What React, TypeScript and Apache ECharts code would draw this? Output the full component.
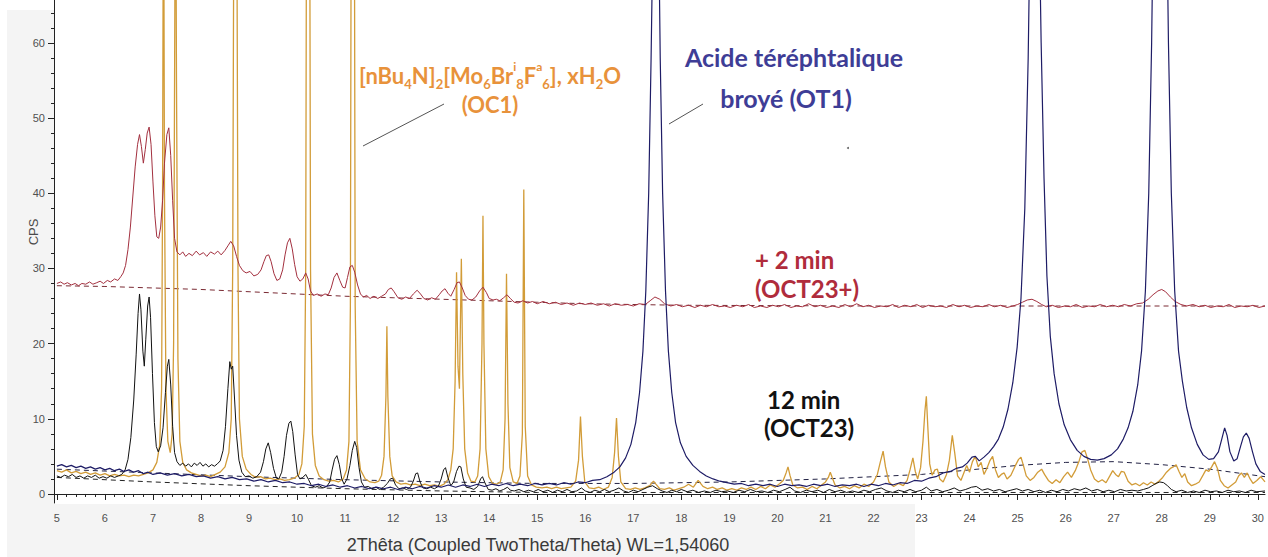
import React, { useEffect, useRef } from "react";
import * as echarts from "echarts";

// ---------- axis ticks ----------
const xTickLabels = [5, 6, 7, 8, 9, 10, 11, 12, 13, 14, 15, 16, 17, 18, 19, 20, 21, 22, 23, 24, 25, 26, 27, 28, 29, 30];
const yTickLabels = [0, 10, 20, 30, 40, 50, 60];

// ---------- series (2θ, CPS) ----------
const redOCT23plus: number[][] = [
  [5.0, 28.0], [5.08, 28.2], [5.15, 27.9], [5.22, 28.1], [5.3, 27.8], [5.38, 28.0], [5.45, 27.7], [5.52, 28.0], [5.6, 27.9], [5.68, 28.2],
  [5.75, 27.9], [5.83, 28.1], [5.9, 28.3], [5.97, 28.0], [6.05, 28.4], [6.12, 28.2], [6.2, 28.6], [6.27, 28.4], [6.33, 28.9], [6.38, 29.4],
  [6.43, 30.4], [6.48, 32.5], [6.53, 35.5], [6.58, 39.5], [6.63, 43.5], [6.68, 46.5], [6.72, 47.8], [6.76, 46.2], [6.8, 44.0], [6.84, 45.8],
  [6.88, 48.0], [6.92, 48.8], [6.96, 46.5], [7.0, 41.5], [7.04, 37.0], [7.08, 34.2], [7.12, 34.0], [7.16, 35.5], [7.2, 39.0], [7.24, 44.0],
  [7.29, 47.8], [7.33, 48.7], [7.37, 45.0], [7.41, 39.0], [7.45, 34.0], [7.5, 32.2], [7.56, 31.8], [7.62, 32.2], [7.68, 31.6], [7.75, 32.0],
  [7.82, 31.7], [7.9, 32.3], [7.97, 31.8], [8.05, 32.1], [8.12, 31.6], [8.2, 32.2], [8.28, 31.9], [8.35, 32.3], [8.42, 31.8], [8.5, 32.4],
  [8.56, 33.0], [8.62, 33.6], [8.68, 33.0], [8.74, 31.6], [8.8, 30.4], [8.87, 29.7], [8.94, 29.4], [9.02, 29.6], [9.1, 29.0], [9.18, 29.2],
  [9.25, 29.8], [9.31, 30.9], [9.36, 31.7], [9.41, 31.8], [9.46, 30.9], [9.52, 29.3], [9.58, 28.4], [9.64, 28.6], [9.7, 29.8], [9.75, 31.8],
  [9.8, 33.4], [9.85, 34.0], [9.9, 32.6], [9.95, 30.5], [10.0, 28.9], [10.06, 28.3], [10.12, 28.6], [10.18, 29.4], [10.23, 28.6], [10.28, 27.0],
  [10.34, 26.4], [10.42, 26.6], [10.5, 26.3], [10.58, 26.6], [10.65, 26.5], [10.71, 27.4], [10.77, 28.8], [10.83, 29.4], [10.89, 28.4], [10.95, 27.5],
  [11.0, 27.4], [11.05, 28.8], [11.1, 30.2], [11.15, 30.4], [11.2, 29.5], [11.26, 27.8], [11.32, 26.6], [11.38, 26.2], [11.45, 26.4], [11.52, 26.0],
  [11.6, 26.3], [11.68, 26.0], [11.76, 26.3], [11.84, 26.6], [11.9, 27.2], [11.96, 27.4], [12.02, 26.9], [12.1, 26.1], [12.18, 25.9], [12.26, 26.2],
  [12.34, 26.0], [12.42, 26.6], [12.5, 27.1], [12.57, 26.6], [12.64, 26.0], [12.72, 25.8], [12.8, 26.1], [12.88, 25.9], [12.96, 26.5], [13.02, 27.0],
  [13.08, 27.3], [13.14, 26.7], [13.2, 26.3], [13.27, 27.2], [13.33, 28.1], [13.38, 28.2], [13.44, 27.4], [13.5, 26.4], [13.57, 25.9], [13.64, 25.8],
  [13.72, 26.2], [13.8, 27.0], [13.87, 27.5], [13.94, 26.8], [14.0, 26.0], [14.08, 25.8], [14.15, 25.9], [14.22, 25.7], [14.3, 26.1], [14.37, 26.5],
  [14.44, 26.0], [14.52, 25.5], [14.6, 25.4], [14.7, 25.7], [14.8, 25.4], [14.9, 25.6], [15.0, 25.3], [15.12, 25.6], [15.25, 25.3], [15.38, 25.5],
  [15.5, 25.2], [15.62, 25.4], [15.75, 25.1], [15.88, 25.4], [16.0, 25.2], [16.12, 25.4], [16.25, 25.1], [16.38, 25.3], [16.5, 25.0], [16.62, 25.3],
  [16.75, 25.1], [16.88, 25.2], [17.0, 25.0], [17.12, 25.3], [17.25, 25.2], [17.35, 25.7], [17.45, 26.2], [17.55, 25.9], [17.65, 25.3], [17.78, 25.0],
  [17.9, 25.2], [18.02, 24.9], [18.15, 25.1], [18.28, 24.8], [18.4, 25.1], [18.52, 24.9], [18.65, 25.2], [18.78, 24.9], [18.9, 25.0], [19.02, 24.8],
  [19.15, 25.1], [19.28, 24.9], [19.4, 25.2], [19.52, 24.8], [19.65, 25.0], [19.78, 24.8], [19.9, 25.1], [20.02, 24.9], [20.15, 25.2], [20.28, 24.8],
  [20.4, 25.0], [20.52, 24.9], [20.65, 25.3], [20.78, 24.9], [20.9, 25.1], [21.02, 24.8], [21.15, 25.0], [21.28, 24.8], [21.4, 25.2], [21.52, 24.9],
  [21.65, 25.3], [21.78, 24.9], [21.9, 25.1], [22.02, 24.8], [22.15, 25.0], [22.28, 24.9], [22.4, 25.2], [22.52, 24.8], [22.65, 25.1], [22.78, 24.9],
  [22.9, 25.2], [23.02, 24.8], [23.15, 25.1], [23.28, 24.9], [23.4, 25.0], [23.52, 24.8], [23.65, 25.2], [23.78, 24.9], [23.9, 25.1], [24.02, 24.8],
  [24.15, 25.0], [24.28, 24.9], [24.4, 25.2], [24.52, 24.9], [24.65, 25.1], [24.78, 24.8], [24.9, 25.0], [25.0, 25.2], [25.1, 25.5], [25.2, 25.8],
  [25.3, 25.9], [25.4, 25.6], [25.5, 25.2], [25.6, 24.9], [25.72, 25.1], [25.85, 24.8], [25.98, 25.0], [26.1, 24.9], [26.22, 25.2], [26.35, 24.8],
  [26.48, 25.0], [26.6, 24.9], [26.72, 25.2], [26.85, 24.9], [26.98, 25.1], [27.1, 24.9], [27.22, 25.2], [27.35, 25.0], [27.48, 25.3], [27.6, 25.4],
  [27.72, 25.9], [27.82, 26.5], [27.92, 27.0], [28.0, 27.2], [28.08, 26.9], [28.18, 26.2], [28.28, 25.6], [28.4, 25.2], [28.52, 25.0], [28.65, 25.2],
  [28.78, 24.9], [28.9, 25.1], [29.02, 24.8], [29.15, 25.0], [29.28, 24.9], [29.4, 25.2], [29.52, 24.8], [29.65, 25.0], [29.78, 24.9], [29.9, 25.1],
  [30.02, 24.8], [30.15, 25.0],
];

const navyOT1: number[][] = [
  [5.0, 3.7], [5.1, 3.9], [5.2, 3.6], [5.3, 3.8], [5.4, 3.5], [5.5, 3.7], [5.6, 3.4], [5.7, 3.6], [5.8, 3.3], [5.9, 3.5],
  [6.0, 3.2], [6.1, 3.4], [6.2, 3.1], [6.3, 3.3], [6.4, 3.0], [6.5, 3.2], [6.6, 2.9], [6.7, 3.1], [6.8, 2.7], [6.9, 2.9],
  [7.0, 2.6], [7.15, 2.8], [7.3, 2.5], [7.45, 2.7], [7.6, 2.4], [7.75, 2.6], [7.9, 2.3], [8.05, 2.4], [8.2, 2.1], [8.35, 2.3],
  [8.5, 2.0], [8.65, 2.2], [8.8, 1.9], [8.95, 2.0], [9.1, 1.7], [9.25, 1.9], [9.4, 1.6], [9.55, 1.8], [9.7, 1.5], [9.85, 1.6],
  [10.0, 1.3], [10.15, 1.4], [10.3, 1.1], [10.45, 1.3], [10.6, 1.0], [10.75, 1.2], [10.9, 0.9], [11.05, 1.1], [11.2, 0.8], [11.35, 1.0],
  [11.5, 0.7], [11.65, 0.9], [11.8, 0.7], [11.95, 0.9], [12.1, 0.6], [12.25, 0.9], [12.4, 0.7], [12.55, 1.0], [12.7, 0.8], [12.85, 1.1],
  [13.0, 0.9], [13.15, 1.2], [13.3, 0.9], [13.45, 1.2], [13.6, 1.0], [13.75, 1.3], [13.9, 1.0], [14.05, 1.3], [14.2, 1.1], [14.35, 1.4],
  [14.5, 1.1], [14.65, 1.3], [14.8, 1.1], [14.95, 1.4], [15.1, 1.2], [15.25, 1.4], [15.4, 1.2], [15.55, 1.5], [15.7, 1.3], [15.85, 1.6],
  [16.0, 1.5], [16.15, 1.8], [16.3, 1.9], [16.45, 2.3], [16.6, 2.9], [16.72, 3.6], [16.84, 4.8], [16.95, 6.6], [17.05, 9.5], [17.13, 13.5],
  [17.2, 19], [17.26, 27], [17.32, 40], [17.37, 58], [17.42, 80], [17.52, 80], [17.56, 58], [17.61, 40], [17.67, 27], [17.73, 19],
  [17.8, 13.5], [17.88, 9.5], [17.98, 6.8], [18.1, 5.0], [18.24, 3.8], [18.38, 3.0], [18.52, 2.4], [18.66, 2.0], [18.8, 1.7], [18.95, 1.5],
  [19.1, 1.3], [19.25, 1.4], [19.4, 1.1], [19.55, 1.3], [19.7, 1.1], [19.85, 1.3], [20.0, 1.0], [20.15, 1.3], [20.3, 1.1], [20.45, 1.2],
  [20.6, 1.0], [20.75, 1.3], [20.9, 1.1], [21.05, 1.3], [21.2, 1.0], [21.35, 1.2], [21.5, 1.1], [21.65, 1.3], [21.8, 1.0], [21.95, 1.3],
  [22.1, 1.1], [22.25, 1.4], [22.4, 1.2], [22.55, 1.5], [22.7, 1.4], [22.85, 1.8], [23.0, 1.7], [23.15, 2.1], [23.3, 2.3], [23.45, 2.8],
  [23.6, 3.0], [23.72, 3.4], [23.85, 3.6], [23.95, 4.1], [24.05, 4.9], [24.12, 5.0], [24.2, 4.4], [24.3, 4.9], [24.4, 5.5], [24.5, 6.3],
  [24.6, 7.3], [24.7, 8.9], [24.8, 11.3], [24.9, 14.8], [24.99, 19.5], [25.07, 26], [25.15, 38], [25.22, 58], [25.27, 80], [25.44, 80],
  [25.49, 60], [25.55, 42], [25.61, 29], [25.68, 21], [25.76, 16], [25.86, 12], [25.97, 9.2], [26.1, 7.2], [26.24, 5.8], [26.38, 5.0],
  [26.52, 4.6], [26.66, 4.5], [26.8, 4.7], [26.95, 5.2], [27.08, 6.0], [27.2, 7.3], [27.3, 8.8], [27.4, 11], [27.5, 14.5], [27.58, 19],
  [27.66, 27], [27.73, 40], [27.79, 60], [27.83, 80], [28.1, 80], [28.14, 60], [28.2, 40], [28.27, 27], [28.35, 19], [28.43, 15],
  [28.52, 11.5], [28.62, 8.8], [28.74, 6.6], [28.86, 5.2], [28.98, 4.6], [29.08, 4.7], [29.18, 5.6], [29.25, 7.3], [29.31, 8.8], [29.36, 7.8],
  [29.42, 5.6], [29.5, 4.4], [29.57, 4.7], [29.64, 6.3], [29.7, 7.6], [29.76, 8.1], [29.82, 7.4], [29.89, 5.6], [29.96, 4.0], [30.05, 3.0],
  [30.15, 2.6],
];

const blackOCT23: number[][] = [
  [5.0, 2.4], [5.08, 2.2], [5.16, 2.5], [5.24, 2.3], [5.32, 2.6], [5.4, 2.2], [5.48, 2.4], [5.56, 2.1], [5.64, 2.4], [5.72, 2.2],
  [5.8, 2.5], [5.88, 2.1], [5.96, 2.3], [6.04, 2.1], [6.12, 2.4], [6.2, 2.2], [6.28, 2.4], [6.35, 2.6], [6.42, 3.2], [6.48, 4.6],
  [6.54, 7.5], [6.6, 12.5], [6.65, 18.5], [6.69, 24], [6.72, 26.6], [6.75, 24.5], [6.79, 19], [6.82, 17], [6.85, 20.5], [6.89, 25],
  [6.92, 26.2], [6.95, 23.5], [6.99, 16], [7.03, 9.5], [7.07, 6.3], [7.11, 5.6], [7.16, 6.4], [7.21, 8.8], [7.26, 13.5], [7.3, 17],
  [7.33, 17.9], [7.37, 14.5], [7.41, 9], [7.45, 5.5], [7.5, 4.3], [7.56, 3.8], [7.62, 4.1], [7.68, 3.7], [7.74, 4.0], [7.8, 3.6],
  [7.86, 4.1], [7.92, 3.8], [7.98, 4.2], [8.04, 3.7], [8.1, 4.0], [8.16, 3.6], [8.22, 3.9], [8.28, 3.7], [8.34, 4.0], [8.4, 4.4],
  [8.46, 5.8], [8.51, 9], [8.56, 14], [8.6, 17.6], [8.63, 16.6], [8.66, 17.0], [8.7, 12.5], [8.74, 7.8], [8.79, 4.5], [8.85, 2.9],
  [8.92, 2.3], [9.0, 2.4], [9.08, 2.1], [9.16, 2.3], [9.24, 2.9], [9.3, 4.3], [9.35, 6.0], [9.4, 6.8], [9.45, 5.5], [9.51, 3.4],
  [9.57, 2.1], [9.62, 2.0], [9.68, 2.9], [9.73, 5.0], [9.78, 7.8], [9.83, 9.4], [9.87, 9.7], [9.91, 8.3], [9.96, 5.2], [10.01, 2.6],
  [10.06, 2.0], [10.12, 2.2], [10.18, 2.6], [10.24, 1.9], [10.3, 1.1], [10.38, 0.9], [10.46, 1.1], [10.54, 0.8], [10.62, 1.0], [10.68, 1.6],
  [10.73, 3.2], [10.78, 4.6], [10.83, 5.1], [10.88, 3.9], [10.93, 2.0], [10.98, 1.3], [11.04, 2.0], [11.1, 3.8], [11.15, 5.8], [11.2, 7.0],
  [11.24, 6.2], [11.29, 3.5], [11.34, 1.6], [11.4, 0.9], [11.48, 1.0], [11.56, 0.7], [11.64, 0.9], [11.72, 0.6], [11.8, 0.9], [11.88, 1.4],
  [11.94, 2.0], [11.99, 2.1], [12.05, 1.2], [12.12, 0.7], [12.2, 0.8], [12.28, 0.6], [12.36, 0.9], [12.42, 1.7], [12.47, 2.7], [12.51, 2.8],
  [12.56, 1.6], [12.62, 0.8], [12.7, 0.7], [12.78, 0.9], [12.86, 0.7], [12.94, 1.0], [13.0, 2.0], [13.05, 3.2], [13.09, 3.5], [13.14, 2.2],
  [13.2, 1.1], [13.26, 1.6], [13.32, 3.0], [13.37, 3.7], [13.41, 3.6], [13.46, 2.0], [13.52, 0.9], [13.6, 0.8], [13.68, 0.6], [13.76, 1.0],
  [13.82, 2.0], [13.86, 2.3], [13.91, 1.5], [13.98, 0.6], [14.06, 0.5], [14.14, 0.7], [14.22, 0.4], [14.3, 0.6], [14.38, 0.9], [14.44, 0.5],
  [14.52, 0.4], [14.62, 0.6], [14.72, 0.3], [14.82, 0.5], [14.92, 0.3], [15.02, 0.6], [15.12, 0.3], [15.22, 0.5], [15.32, 0.2], [15.42, 0.5],
  [15.52, 0.3], [15.62, 0.6], [15.72, 0.3], [15.82, 0.4], [15.92, 0.8], [16.0, 0.4], [16.1, 0.2], [16.2, 0.5], [16.3, 0.3], [16.4, 0.6],
  [16.5, 0.3], [16.6, 0.5], [16.7, 0.8], [16.8, 0.4], [16.9, 0.2], [17.0, 0.5], [17.1, 0.3], [17.2, 0.6], [17.3, 0.9], [17.4, 1.1],
  [17.5, 0.7], [17.6, 0.4], [17.7, 0.2], [17.8, 0.5], [17.9, 0.3], [18.0, 0.6], [18.12, 0.3], [18.24, 0.5], [18.36, 0.2], [18.48, 0.4],
  [18.6, 0.2], [18.72, 0.5], [18.84, 0.3], [18.96, 0.4], [19.08, 0.2], [19.2, 0.5], [19.32, 0.3], [19.44, 0.6], [19.56, 0.3], [19.68, 0.4],
  [19.8, 0.2], [19.92, 0.5], [20.04, 0.3], [20.16, 0.6], [20.26, 0.9], [20.36, 0.4], [20.48, 0.2], [20.6, 0.5], [20.72, 0.3], [20.84, 0.5],
  [20.96, 0.2], [21.08, 0.6], [21.2, 0.3], [21.32, 0.5], [21.44, 0.2], [21.56, 0.4], [21.68, 0.2], [21.8, 0.5], [21.92, 0.3], [22.04, 0.6],
  [22.16, 0.8], [22.28, 0.4], [22.4, 0.2], [22.52, 0.5], [22.64, 0.3], [22.76, 0.6], [22.88, 0.3], [23.0, 0.5], [23.1, 0.9], [23.2, 0.4],
  [23.32, 0.6], [23.44, 0.3], [23.56, 0.5], [23.68, 0.8], [23.8, 0.4], [23.92, 0.6], [24.04, 0.9], [24.14, 1.0], [24.26, 0.5], [24.38, 0.7],
  [24.5, 0.4], [24.62, 0.6], [24.74, 0.3], [24.86, 0.5], [24.98, 0.7], [25.1, 0.4], [25.22, 0.6], [25.34, 0.3], [25.46, 0.5], [25.58, 0.2],
  [25.7, 0.5], [25.82, 0.3], [25.94, 0.6], [26.06, 0.4], [26.18, 0.7], [26.3, 0.5], [26.42, 0.8], [26.54, 0.4], [26.66, 0.6], [26.78, 0.3],
  [26.9, 0.5], [27.02, 0.3], [27.14, 0.6], [27.26, 0.4], [27.38, 0.5], [27.5, 0.4], [27.62, 0.6], [27.72, 0.8], [27.8, 1.1], [27.88, 1.4],
  [27.96, 1.6], [28.04, 1.5], [28.12, 1.1], [28.2, 0.6], [28.3, 0.3], [28.42, 0.5], [28.54, 0.2], [28.66, 0.4], [28.78, 0.2], [28.9, 0.5],
  [29.02, 0.3], [29.14, 0.4], [29.26, 0.2], [29.38, 0.5], [29.5, 0.3], [29.62, 0.4], [29.74, 0.2], [29.86, 0.5], [29.98, 0.3], [30.15, 0.4],
];

const orangeOC1: number[][] = [
  [5.0, 3.1], [5.1, 2.9], [5.2, 3.2], [5.3, 2.8], [5.4, 3.0], [5.5, 2.7], [5.6, 2.9], [5.7, 2.6], [5.8, 2.8], [5.9, 2.5],
  [6.0, 2.7], [6.1, 2.4], [6.2, 2.6], [6.3, 2.4], [6.4, 2.5], [6.5, 2.3], [6.6, 2.5], [6.7, 2.4], [6.8, 2.6], [6.9, 2.8],
  [7.0, 3.2], [7.08, 4.2], [7.14, 6.5], [7.18, 14], [7.2, 40], [7.22, 90], [7.24, 40], [7.27, 14], [7.31, 7], [7.36, 5.5],
  [7.4, 8], [7.43, 20], [7.45, 55], [7.47, 90], [7.49, 55], [7.52, 18], [7.56, 7], [7.62, 4.2], [7.7, 3.2], [7.8, 2.8],
  [7.9, 2.6], [8.0, 2.4], [8.1, 2.5], [8.2, 2.3], [8.3, 2.6], [8.4, 2.9], [8.5, 3.6], [8.58, 5.5], [8.63, 10], [8.66, 30],
  [8.69, 90], [8.74, 90], [8.77, 30], [8.8, 10], [8.86, 5], [8.94, 3.3], [9.04, 2.6], [9.14, 2.2], [9.24, 2.3], [9.34, 2.0],
  [9.44, 2.1], [9.54, 1.9], [9.64, 2.0], [9.74, 1.8], [9.84, 1.9], [9.94, 2.1], [10.04, 2.6], [10.1, 4], [10.15, 9], [10.18, 30],
  [10.2, 90], [10.26, 90], [10.28, 30], [10.32, 8], [10.38, 3.8], [10.46, 2.4], [10.56, 1.9], [10.66, 1.7], [10.76, 1.8], [10.86, 1.6],
  [10.96, 2.0], [11.03, 3.2], [11.08, 7], [11.11, 25], [11.13, 90], [11.19, 90], [11.21, 25], [11.25, 7], [11.32, 3.2], [11.42, 2.0],
  [11.52, 1.6], [11.62, 1.5], [11.7, 1.7], [11.76, 2.5], [11.81, 5], [11.85, 13], [11.87, 22.3], [11.89, 13], [11.93, 5], [11.98, 2.4],
  [12.06, 1.6], [12.16, 1.3], [12.26, 1.4], [12.36, 1.2], [12.46, 1.3], [12.56, 1.1], [12.66, 1.3], [12.76, 1.1], [12.86, 1.2], [12.96, 1.0],
  [13.06, 1.3], [13.14, 1.9], [13.2, 3.2], [13.25, 6], [13.29, 15], [13.32, 29.5], [13.35, 17], [13.38, 14], [13.42, 31.3], [13.45, 16],
  [13.49, 6], [13.55, 2.8], [13.62, 1.7], [13.7, 1.6], [13.76, 2.4], [13.81, 6], [13.85, 20], [13.87, 37], [13.89, 20], [13.93, 6],
  [13.99, 2.3], [14.07, 1.4], [14.15, 1.3], [14.23, 1.6], [14.29, 3.2], [14.33, 10], [14.36, 29.3], [14.39, 12], [14.43, 3.5], [14.5, 1.6],
  [14.58, 1.4], [14.64, 2.4], [14.69, 8], [14.72, 40.5], [14.75, 9], [14.8, 2.4], [14.88, 1.2], [14.98, 0.9], [15.1, 0.8], [15.2, 0.9],
  [15.3, 0.7], [15.4, 0.9], [15.5, 0.7], [15.6, 0.8], [15.7, 0.9], [15.8, 1.7], [15.86, 4.5], [15.9, 10.3], [15.94, 5], [15.99, 1.6],
  [16.08, 0.8], [16.18, 0.7], [16.28, 0.9], [16.38, 0.6], [16.48, 0.9], [16.56, 2.2], [16.61, 5.5], [16.65, 10.1], [16.69, 5], [16.74, 1.6],
  [16.84, 0.7], [16.94, 0.6], [17.04, 0.8], [17.14, 0.6], [17.24, 0.8], [17.34, 1.1], [17.42, 1.7], [17.47, 1.3], [17.55, 0.7], [17.65, 0.6],
  [17.75, 0.8], [17.85, 0.5], [17.95, 0.7], [18.05, 0.9], [18.15, 1.3], [18.25, 0.9], [18.35, 1.8], [18.45, 1.0], [18.55, 0.7], [18.65, 0.9],
  [18.75, 0.6], [18.85, 0.8], [18.95, 0.5], [19.05, 0.7], [19.15, 0.5], [19.25, 0.8], [19.35, 0.6], [19.45, 0.9], [19.55, 0.6], [19.65, 1.0],
  [19.75, 0.7], [19.85, 1.2], [19.95, 0.9], [20.05, 1.4], [20.12, 1.8], [20.18, 2.8], [20.22, 3.6], [20.26, 2.5], [20.32, 1.2], [20.42, 0.8],
  [20.52, 0.9], [20.62, 0.6], [20.72, 1.0], [20.82, 0.7], [20.92, 1.2], [21.0, 1.6], [21.06, 2.2], [21.1, 2.9], [21.14, 2.2], [21.2, 1.2],
  [21.3, 0.8], [21.4, 1.0], [21.5, 0.7], [21.6, 1.1], [21.7, 0.8], [21.8, 1.3], [21.9, 1.0], [22.0, 1.6], [22.08, 2.6], [22.14, 4.2],
  [22.2, 5.7], [22.25, 3.6], [22.32, 1.6], [22.42, 1.0], [22.52, 1.4], [22.62, 1.1], [22.7, 1.8], [22.76, 3.2], [22.82, 4.8], [22.87, 3.0],
  [22.92, 2.0], [22.98, 3.5], [23.03, 7], [23.07, 11], [23.1, 13.0], [23.13, 9], [23.17, 4], [23.22, 2.5], [23.28, 3.2], [23.33, 3.3],
  [23.38, 2.0], [23.45, 1.6], [23.52, 2.6], [23.58, 4.5], [23.64, 7.8], [23.69, 5.5], [23.75, 2.4], [23.82, 1.8], [23.88, 2.8], [23.94, 3.8],
  [24.0, 2.9], [24.06, 4.3], [24.12, 5.0], [24.18, 3.6], [24.24, 4.2], [24.3, 2.6], [24.36, 3.4], [24.42, 4.4], [24.48, 5.0], [24.54, 3.2],
  [24.6, 2.2], [24.66, 2.6], [24.72, 2.8], [24.78, 2.0], [24.86, 2.5], [24.94, 3.6], [25.02, 4.6], [25.07, 4.9], [25.12, 3.8], [25.18, 2.4],
  [25.26, 1.8], [25.34, 2.2], [25.42, 2.9], [25.5, 3.3], [25.56, 2.6], [25.64, 1.8], [25.72, 1.4], [25.8, 1.9], [25.88, 1.5], [25.96, 2.3],
  [26.04, 2.9], [26.12, 2.2], [26.2, 3.1], [26.28, 4.4], [26.34, 5.6], [26.4, 5.8], [26.46, 4.6], [26.52, 3.2], [26.6, 2.0], [26.68, 1.6],
  [26.76, 1.9], [26.84, 1.5], [26.92, 2.4], [26.98, 3.1], [27.04, 2.6], [27.1, 2.3], [27.16, 3.0], [27.22, 2.9], [27.3, 1.7], [27.38, 1.2],
  [27.46, 1.4], [27.54, 1.1], [27.62, 1.5], [27.7, 1.2], [27.78, 1.6], [27.86, 1.3], [27.94, 1.7], [28.02, 2.2], [28.1, 2.9], [28.18, 3.4],
  [28.24, 3.6], [28.3, 3.9], [28.36, 3.0], [28.42, 2.2], [28.48, 2.7], [28.54, 1.6], [28.62, 1.1], [28.7, 1.3], [28.78, 1.6], [28.86, 2.5],
  [28.92, 3.2], [28.98, 3.0], [29.04, 3.6], [29.1, 4.3], [29.16, 3.4], [29.22, 1.8], [29.3, 1.1], [29.38, 0.8], [29.46, 1.2], [29.54, 1.6],
  [29.6, 2.4], [29.66, 2.8], [29.72, 2.2], [29.78, 2.8], [29.84, 2.0], [29.9, 1.4], [29.98, 1.8], [30.06, 2.3], [30.15, 1.6],
];

// fitted backgrounds (dashed)
const redBackground: number[][] = [
  [5.0, 27.7], [6.0, 27.6], [7.0, 27.4], [8.0, 27.2], [9.0, 26.9], [10.0, 26.6], [11.0, 26.3], [12.0, 26.1], [13.0, 25.9],
  [14.0, 25.7], [15.0, 25.5], [16.0, 25.3], [18.0, 25.1], [22.0, 25.0], [30.15, 25.0],
];
const navyBackground: number[][] = [
  [5.0, 3.3], [7.0, 2.8], [9.0, 2.3], [11.0, 1.9], [13.0, 1.6], [15.0, 1.4], [17.0, 1.4], [19.0, 1.6], [21.0, 2.0],
  [23.0, 2.6], [24.0, 3.2], [25.0, 3.8], [26.0, 4.2], [27.0, 4.3], [28.0, 3.9], [29.0, 3.3], [30.15, 2.3],
];
const blackBackground: number[][] = [
  [5.0, 2.2], [7.0, 1.6], [9.0, 1.1], [11.0, 0.7], [13.0, 0.4], [15.0, 0.2], [30.15, 0.2],
];

const X_MIN = 4.94;
const X_MAX = 30.15;
const Y_MIN = -1.2;
const Y_MAX = 65.7;

const RED = "#A3303F";
const NAVY = "#1E1C66";
const BLACK = "#111111";
const GOLD = "#D29C38";
const ORANGE_TEXT = "#E8923B";
const BLUE_TEXT = "#3E3D96";
const RED_TEXT = "#B02C3C";

function minorTicks(from: number, to: number, step: number, major: number): number[] {
  const out: number[] = [];
  const n = Math.round((to - from) / step);
  for (let i = 0; i <= n; i++) {
    const v = Math.round((from + i * step) * 1000) / 1000;
    if (Math.abs(v / major - Math.round(v / major)) > 1e-6) out.push(v);
  }
  return out;
}

export default function App() {
  const ref = useRef<HTMLDivElement>(null);
  useEffect(() => {
    if (!ref.current) return;
    const chart = echarts.init(ref.current, null, { renderer: "svg" });
    const axisFont = "Liberation Sans, Arial, sans-serif";
    const annFont = "Lato, 'Open Sans', sans-serif";
    const line = (data: number[][], color: string, width = 1, z = 2, dashed = false) => ({
      type: "line",
      data,
      showSymbol: false,
      symbol: "none",
      z,
      lineStyle: { color, width, type: dashed ? [5, 4] : "solid" },
      emphasis: { disabled: true },
      silent: true,
    });
    const sub = { fontSize: 13, fontWeight: "bold", fontFamily: annFont, fill: ORANGE_TEXT, verticalAlign: "bottom", lineHeight: 13 };
    const sup = { fontSize: 12, fontWeight: "bold", fontFamily: annFont, fill: ORANGE_TEXT, verticalAlign: "top", lineHeight: 12 };
    const bigText = (text: string, x: number, y: number, fill: string, size: number, align = "left") => ({
      type: "text", x, y, z: 10,
      style: { text, font: `bold ${size}px ${annFont}`, fill, align, verticalAlign: "middle" },
    });
    chart.setOption({
      animation: false,
      backgroundColor: "#ffffff",
      grid: {
        left: 54, right: 3, top: 0, bottom: 54, containLabel: false, outerBoundsMode: "none",
        show: true, backgroundColor: "#ffffff", borderWidth: 0,
      },
      xAxis: [
        {
          type: "value", min: X_MIN, max: X_MAX, position: "bottom", offset: 0,
          axisLine: { show: true, lineStyle: { color: "#222", width: 1 } },
          axisTick: { show: true, customValues: xTickLabels, length: 6, lineStyle: { color: "#222" } },
          axisLabel: { show: true, customValues: xTickLabels, margin: 9, fontSize: 11, color: "#505050", fontFamily: axisFont },
          splitLine: { show: false },
        },
        {
          type: "value", min: X_MIN, max: X_MAX, position: "bottom", offset: 0,
          axisLine: { show: false },
          axisTick: { show: true, customValues: minorTicks(5, 30, 0.2, 1), length: 3, lineStyle: { color: "#222" } },
          axisLabel: { show: false },
          splitLine: { show: false },
        },
      ],
      yAxis: [
        {
          type: "value", min: Y_MIN, max: Y_MAX, position: "left", offset: 0,
          axisLine: { show: true, lineStyle: { color: "#222", width: 1 } },
          axisTick: { show: true, customValues: yTickLabels, length: 6, lineStyle: { color: "#222" } },
          axisLabel: { show: true, customValues: yTickLabels, margin: 9, fontSize: 11, color: "#505050", fontFamily: axisFont },
          splitLine: { show: false },
        },
        {
          type: "value", min: Y_MIN, max: Y_MAX, position: "left", offset: 0,
          axisLine: { show: false },
          axisTick: { show: true, customValues: minorTicks(0, 64, 2, 10), length: 3, lineStyle: { color: "#222" } },
          axisLabel: { show: false },
          splitLine: { show: false },
        },
      ],
      series: [
        line(redBackground, "#7a2a33", 1, 1, true),
        line(navyBackground, "#222244", 1, 1, true),
        line(blackBackground, "#222222", 1, 1, true),
        line(orangeOC1, GOLD, 1.3, 2),
        line(redOCT23plus, RED, 1, 3),
        line(blackOCT23, BLACK, 1, 3),
        line(navyOT1, NAVY, 1.2, 4),
      ],
      graphic: [
        { type: "rect", z: -10, silent: true, shape: { x: 7, y: 10, width: 47, height: 547 }, style: { fill: "#f4f4f4" } },
        { type: "rect", z: -10, silent: true, shape: { x: 7, y: 504, width: 908, height: 53 }, style: { fill: "#f4f4f4" } },
        {
          type: "text", x: 33, y: 232, rotation: Math.PI / 2, z: 10,
          style: { text: "CPS", font: `13px ${axisFont}`, fill: "#4a4a4a", align: "center", verticalAlign: "middle" },
        },
        {
          type: "text", x: 538, y: 545, z: 10,
          style: { text: "2Thêta (Coupled TwoTheta/Theta) WL=1,54060", font: `18px ${axisFont}`, fill: "#3a3a3a", align: "center", verticalAlign: "middle" },
        },
        {
          type: "text", x: 490, y: 75, z: 10,
          style: {
            text: "[nBu{sub|4}N]{sub|2}[Mo{sub|6}Br{sup|i}{sub|8}F{sup|a}{sub|6}], xH{sub|2}O",
            font: `bold 22px ${annFont}`, fill: ORANGE_TEXT, align: "center", verticalAlign: "middle", lineHeight: 30,
            rich: { sub, sup },
          },
        },
        bigText("(OC1)", 490, 104, ORANGE_TEXT, 22, "center"),
        { type: "line", z: 10, shape: { x1: 363, y1: 146, x2: 444, y2: 104 }, style: { stroke: "#555", lineWidth: 1 } },
        bigText("Acide téréphtalique", 794, 57, BLUE_TEXT, 25, "center"),
        bigText("broyé (OT1)", 786, 98, BLUE_TEXT, 25, "center"),
        { type: "line", z: 10, shape: { x1: 669, y1: 124, x2: 703, y2: 104 }, style: { stroke: "#555", lineWidth: 1 } },
        { type: "circle", z: 10, shape: { cx: 848, cy: 148, r: 1 }, style: { fill: "#666" } },
        bigText("+ 2 min", 755, 259, RED_TEXT, 24),
        bigText("(OCT23+)", 755, 288, RED_TEXT, 24),
        bigText("12 min", 767, 399, "#111", 24),
        bigText("(OCT23)", 764, 427, "#111", 24),
      ],
    });
    return () => chart.dispose();
  }, []);
  return <div ref={ref} style={{ position: "fixed", left: 0, top: 0, width: 1268, height: 557 }} />;
}
